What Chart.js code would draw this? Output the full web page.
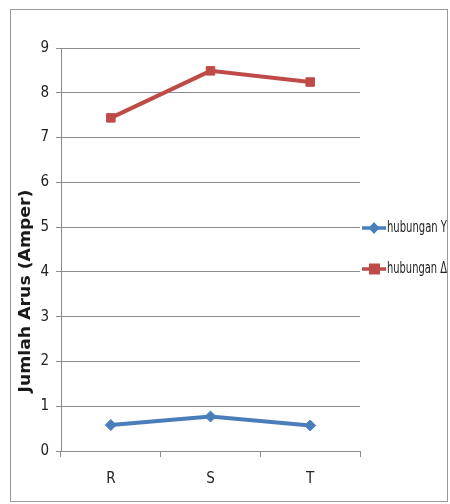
<!DOCTYPE html>
<html>
<head>
<meta charset="utf-8">
<script src="https://cdn.jsdelivr.net/npm/chart.js@4/dist/chart.umd.min.js"></script>
<style>
  html, body { margin: 0; padding: 0; background: #ffffff; }
  #wrap { position: relative; width: 450px; height: 504px; }
  canvas { display: block; }
</style>
</head>
<body>
<div id="wrap"><canvas id="c" width="450" height="504"></canvas></div>
<script>
// Phase labels and measured currents (A)
const categories = ['R', 'S', 'T'];
const hubunganY = [0.58, 0.77, 0.57];
const hubunganDelta = [7.44, 8.49, 8.24];
const seriesNames = ['hubungan Y', 'hubungan \u0394'];
const yTicks = [0, 1, 2, 3, 4, 5, 6, 7, 8, 9];
const yTitle = 'Jumlah Arus (Amper)';

// Prefer a condensed face when one is installed
function pickFont(candidates, fallback) {
  const probe = document.createElement('canvas').getContext('2d');
  const sample = 'hubungan Y 0123456789';
  probe.font = '20px monospace';
  const base = probe.measureText(sample).width;
  for (const f of candidates) {
    probe.font = "20px '" + f + "', monospace";
    if (Math.abs(probe.measureText(sample).width - base) > 0.5) return "'" + f + "'";
  }
  return fallback;
}
const FONT = pickFont(['Liberation Sans Narrow', 'DejaVu Sans Condensed', 'Roboto Condensed', 'Open Sans Condensed'], "'Liberation Sans'") + ', sans-serif';

const BLUE = '#4A7EBB';
const RED = '#BE4B48';
const GRID = '#8c8c8c';

// Draw text squeezed horizontally to a given width
function fitText(ctx, text, x, y, maxW) {
  const w = ctx.measureText(text).width;
  const s = w > maxW ? maxW / w : 1;
  ctx.save();
  ctx.translate(x, y);
  ctx.scale(s, 1);
  ctx.fillText(text, 0, 0);
  ctx.restore();
}

// Outer frame, rotated axis title and the side legend
const decorations = {
  id: 'decorations',
  beforeDraw(chart) {
    const ctx = chart.ctx;
    ctx.save();
    ctx.fillStyle = '#ffffff';
    ctx.fillRect(0, 0, chart.width, chart.height);
    ctx.strokeStyle = '#9a9a9a';
    ctx.lineWidth = 1;
    ctx.strokeRect(10.5, 9.5, 437, 492);
    ctx.restore();
  },
  afterDraw(chart) {
    const ctx = chart.ctx;
    ctx.save();
    // axis title
    ctx.translate(26, 291);
    ctx.rotate(-Math.PI / 2);
    ctx.font = "bold 15px 'DejaVu Sans', 'Liberation Sans', sans-serif";
    ctx.fillStyle = '#1a1a1a';
    ctx.textAlign = 'center';
    ctx.textBaseline = 'middle';
    const tw = ctx.measureText(yTitle).width;
    ctx.scale(203 / tw, 1);
    ctx.fillText(yTitle, 0, 0);
    ctx.restore();

    // legend
    const rows = [228, 269];
    chart.data.datasets.forEach((ds, i) => {
      const y = rows[i];
      ctx.save();
      ctx.strokeStyle = ds.borderColor;
      ctx.lineWidth = 3.5;
      ctx.beginPath();
      ctx.moveTo(362, y);
      ctx.lineTo(386, y);
      ctx.stroke();
      ctx.fillStyle = ds.pointBackgroundColor;
      ctx.beginPath();
      if (ds.pointStyle === 'rect') {
        ctx.rect(369, y - 5.5, 11, 11);
      } else {
        ctx.moveTo(374, y - 6);
        ctx.lineTo(379.5, y);
        ctx.lineTo(374, y + 6);
        ctx.lineTo(368.5, y);
        ctx.closePath();
      }
      ctx.fill();
      ctx.font = '15px ' + FONT;
      ctx.fillStyle = '#222222';
      ctx.textAlign = 'left';
      ctx.textBaseline = 'middle';
      fitText(ctx, ds.label, 387, y, 60);
      ctx.restore();
    });
  }
};

new Chart(document.getElementById('c'), {
  type: 'line',
  data: {
    labels: categories,
    datasets: [
      {
        label: seriesNames[0],
        data: hubunganY,
        borderColor: BLUE,
        backgroundColor: BLUE,
        pointBackgroundColor: BLUE,
        pointBorderColor: BLUE,
        borderWidth: 4,
        pointStyle: 'rectRot',
        pointRadius: 5.5,
        pointBorderWidth: 1,
        tension: 0
      },
      {
        label: seriesNames[1],
        data: hubunganDelta,
        borderColor: RED,
        backgroundColor: RED,
        pointBackgroundColor: RED,
        pointBorderColor: RED,
        borderWidth: 4,
        pointStyle: 'rect',
        pointRadius: 6,
        pointBorderWidth: 1,
        tension: 0
      }
    ]
  },
  options: {
    responsive: false,
    animation: false,
    layout: { padding: { left: 20, right: 90, top: 48, bottom: 13 } },
    plugins: { legend: { display: false }, tooltip: { enabled: false } },
    scales: {
      x: {
        offset: true,
        grid: {
          offset: true,
          drawOnChartArea: false,
          drawTicks: true,
          tickLength: 6,
          color: GRID
        },
        border: { display: true, color: GRID, width: 1 },
        ticks: {
          font: { family: FONT, size: 15 },
          color: '#222222',
          padding: 13
        },
        afterFit(scale) { scale.height = 40; }
      },
      y: {
        min: 0,
        max: 9,
        afterBuildTicks(scale) { scale.ticks = yTicks.map(v => ({ value: v })); },
        grid: {
          color: GRID,
          lineWidth: 1,
          drawTicks: true,
          tickLength: 5
        },
        border: { display: true, color: GRID, width: 1 },
        ticks: {
          font: { family: FONT, size: 15 },
          color: '#222222',
          padding: 7
        },
        afterFit(scale) { scale.width = 41; }
      }
    }
  },
  plugins: [decorations]
});
</script>
</body>
</html>
